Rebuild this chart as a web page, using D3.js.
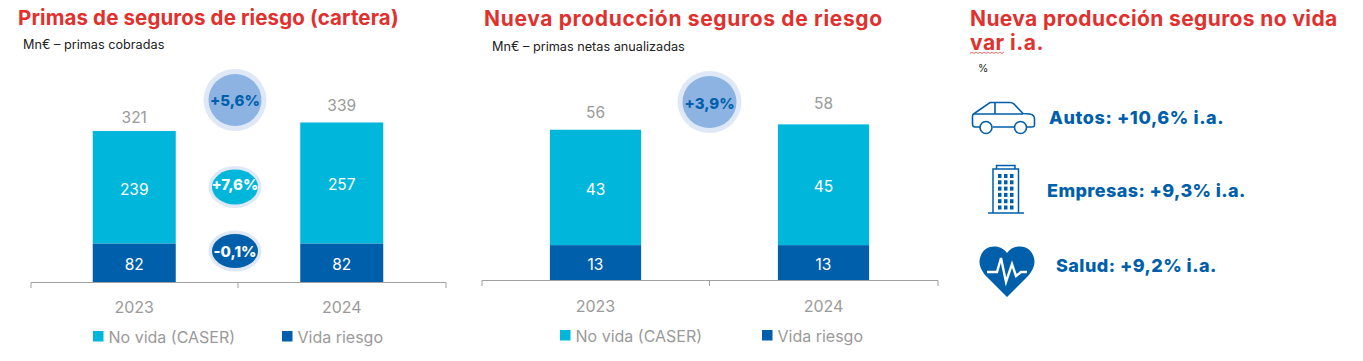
<!DOCTYPE html>
<html>
<head>
<meta charset="utf-8">
<script src="https://cdn.jsdelivr.net/npm/d3@7"></script>
<style>
  html, body { margin: 0; padding: 0; background: #fff; }
  svg { display: block; }
  text { font-family: Inter, "Open Sans", sans-serif; }
</style>
</head>
<body>
<div id="container"></div>
<script>
const categories = ["2023", "2024"];
const seriesNames = ["Vida riesgo", "No vida (CASER)"];

const carteraVida = [82, 82];
const carteraNoVida = [239, 257];
const carteraTotal = [321, 339];

const nuevaVida = [13, 13];
const nuevaNoVida = [43, 45];
const nuevaTotal = [56, 58];

const carteraGrowth = ["+5,6%", "+7,6%", "-0,1%"];
const nuevaGrowth = ["+3,9%"];

const autosLabel = "Autos: +10,6% i.a.";
const empresasLabel = "Empresas: +9,3% i.a.";
const saludLabel = "Salud: +9,2% i.a.";

const cyan = "#00b7db";
const navy = "#005fab";
const red = "#e0312e";
const grey = "#9a9a9a";

const svg = d3
  .select("#container")
  .append("svg")
  .attr("width", 1363)
  .attr("height", 361);

// titles and subtitles
function addText(x, y, str, size, weight, fill, spacing) {
  return svg
    .append("text")
    .attr("x", x)
    .attr("y", y)
    .attr("font-size", size)
    .attr("font-weight", weight)
    .attr("fill", fill)
    .attr("letter-spacing", spacing || 0)
    .text(str);
}

addText(18, 25, "Primas de seguros de riesgo (cartera)", 20.5, 700, red, 0.12);
addText(484, 26, "Nueva producción seguros de riesgo", 21, 700, red, 0.66);
addText(970, 26, "Nueva producción seguros no vida", 21, 700, red, 0.38);
addText(970, 50, "var i.a.", 21, 700, red, 0.5);
addText(23, 49, "Mn€ – primas cobradas", 12.7, 400, "#222");
addText(492, 51, "Mn€ – primas netas anualizadas", 12.7, 400, "#222");
addText(978, 72, "%", 10.5, 400, "#222");

// spell check squiggle under "var"
svg
  .append("path")
  .attr("fill", "none")
  .attr("stroke", red)
  .attr("stroke-width", 0.7)
  .attr("d", d3.range(0, 18).map((i) => `${i ? "L" : "M"}${970 + i * 2},${i % 2 ? 52 : 53.5}`).join(""));

// stacked bars, one panel per call
function drawPanel(opt) {
  const xScale = d3
    .scaleBand()
    .domain(categories)
    .range(opt.xRange)
    .paddingInner(0.6)
    .paddingOuter(0.3);
  const yScale = d3
    .scaleLinear()
    .domain([0, opt.yMax])
    .range([opt.base, opt.yTop]);

  const rows = categories.map((c, i) => ({
    year: c,
    vida: opt.vida[i],
    noVida: opt.noVida[i],
    total: opt.total[i],
    dy: opt.totalGap[i],
  }));
  const stacked = d3.stack().keys(["vida", "noVida"])(rows);
  const colors = [navy, cyan];

  const g = svg.append("g");
  const layers = g
    .selectAll(".layer")
    .data(stacked)
    .enter()
    .append("g")
    .attr("class", "layer")
    .attr("fill", (d, i) => colors[i]);

  layers
    .selectAll("rect")
    .data((d) => d)
    .enter()
    .append("rect")
    .attr("x", (d) => xScale(d.data.year))
    .attr("width", xScale.bandwidth())
    .attr("y", (d) => yScale(d[1]))
    .attr("height", (d) => yScale(d[0]) - yScale(d[1]));

  layers
    .selectAll("text")
    .data((d) => d)
    .enter()
    .append("text")
    .attr("x", (d) => xScale(d.data.year) + xScale.bandwidth() / 2)
    .attr("y", (d) => (yScale(d[0]) + yScale(d[1])) / 2 + 2)
    .attr("dy", "0.35em")
    .attr("text-anchor", "middle")
    .attr("font-size", 15.5)
    .attr("fill", "#fff")
    .text((d) => d[1] - d[0]);

  // totals on top
  g.selectAll(".total")
    .data(rows)
    .enter()
    .append("text")
    .attr("class", "total")
    .attr("x", (d) => xScale(d.year) + xScale.bandwidth() / 2)
    .attr("y", (d) => yScale(d.total) - d.dy)
    .attr("text-anchor", "middle")
    .attr("font-size", 15.5)
    .attr("fill", grey)
    .text((d) => d.total);

  // x axis, ticks sit between the categories
  const axis = g
    .append("g")
    .attr("transform", `translate(0, ${opt.base})`)
    .call(d3.axisBottom(xScale).tickSize(0).tickSizeOuter(6).tickPadding(opt.labelPad));
  axis.select(".domain").attr("stroke", "#a0a0a0");
  axis
    .selectAll("text")
    .attr("font-size", 16)
    .attr("fill", grey)
    .attr("font-family", "Inter");
  axis
    .append("line")
    .attr("x1", xScale.step() + opt.xRange[0])
    .attr("x2", xScale.step() + opt.xRange[0])
    .attr("y1", 0)
    .attr("y2", 6)
    .attr("stroke", "#a0a0a0");

  // legend
  const legend = [
    { name: seriesNames[1], color: cyan, x: opt.legendX[0] },
    { name: seriesNames[0], color: navy, x: opt.legendX[1] },
  ];
  const items = g
    .selectAll(".legend")
    .data(legend)
    .enter()
    .append("g")
    .attr("class", "legend")
    .attr("transform", (d) => `translate(${d.x}, ${opt.legendY})`);
  items
    .append("rect")
    .attr("width", 10.5)
    .attr("height", 10.5)
    .attr("fill", (d) => d.color);
  items
    .append("text")
    .attr("x", 15.5)
    .attr("y", 11.5)
    .attr("font-size", 16)
    .attr("fill", grey)
    .text((d) => d.name);
}

drawPanel({
  xRange: [30.5, 445.5],
  base: 282,
  yTop: 122,
  yMax: 340,
  vida: carteraVida,
  noVida: carteraNoVida,
  total: carteraTotal,
  totalGap: [8, 11],
  labelPad: 20,
  legendX: [93, 282],
  legendY: 331,
});

drawPanel({
  xRange: [481.5, 937.5],
  base: 280,
  yTop: 119,
  yMax: 60,
  vida: nuevaVida,
  noVida: nuevaNoVida,
  total: nuevaTotal,
  totalGap: [12, 15],
  labelPad: 21,
  legendX: [560, 762],
  legendY: 330,
});

// growth bubbles
const bubbles = [
  { label: carteraGrowth[0], cx: 235, cy: 100, rx: 26.5, ry: 26, ring: 5, fill: "#8db3e2", color: navy, textDy: 1 },
  { label: carteraGrowth[1], cx: 235, cy: 187, rx: 23, ry: 17.5, ring: 3.5, fill: cyan, color: "#fff", textDy: -2 },
  { label: carteraGrowth[2], cx: 235, cy: 251, rx: 23, ry: 17, ring: 3.5, fill: navy, color: "#fff", textDy: 0.5 },
  { label: nuevaGrowth[0], cx: 709.5, cy: 102, rx: 27, ry: 26, ring: 5, fill: "#8db3e2", color: navy, textDy: 2 },
];
const bubble = svg.selectAll(".bubble").data(bubbles).enter().append("g").attr("class", "bubble");
bubble
  .append("ellipse")
  .attr("cx", (d) => d.cx)
  .attr("cy", (d) => d.cy)
  .attr("rx", (d) => d.rx + d.ring)
  .attr("ry", (d) => d.ry + d.ring)
  .attr("fill", "#dfe8f6");
bubble
  .append("ellipse")
  .attr("cx", (d) => d.cx)
  .attr("cy", (d) => d.cy)
  .attr("rx", (d) => d.rx)
  .attr("ry", (d) => d.ry)
  .attr("fill", (d) => d.fill);
bubble
  .append("text")
  .attr("x", (d) => d.cx)
  .attr("y", (d) => d.cy + d.textDy)
  .attr("dy", "0.35em")
  .attr("text-anchor", "middle")
  .attr("font-size", 15)
  .attr("font-weight", 800)
  .attr("fill", (d) => d.color)
  .text((d) => d.label);

// right column
addText(1049, 124, autosLabel, 18, 800, navy, 0.6);
addText(1047, 197, empresasLabel, 18, 800, navy, 0.4);
addText(1056, 272, saludLabel, 18, 800, navy, 0.45);

// car icon
const car = svg.append("g").attr("fill", "none").attr("stroke", navy).attr("stroke-width", 1.6);
car
  .append("path")
  .attr("d", "M980,127 L975,127 Q972.5,127 972.5,124 L972.5,116 Q972.5,114 975,113 L990,102.5 L1010,102.5 Q1012,102.5 1014,104 L1023,113.5 L1030,114 Q1034.5,115 1034.5,119 L1034.5,125 Q1034.5,127 1032,127 L1027,127 M993,127 L1014,127");
car.append("path").attr("d", "M973,114 L1023,114 M995,102.5 L995,114");
car.append("circle").attr("cx", 986).attr("cy", 127.5).attr("r", 6);
car.append("circle").attr("cx", 1020.5).attr("cy", 127.5).attr("r", 6);

// building icon
const building = svg.append("g").attr("stroke", navy).attr("fill", "none").attr("stroke-width", 1.5);
building.append("path").attr("d", "M988,213 L1024,213 M993,213 L993,169 L1018.5,169 L1018.5,213 M996.5,169 L996.5,165.5 L1015,165.5 L1015,169");
building
  .selectAll("rect")
  .data(d3.cross(d3.range(3), d3.range(6)))
  .enter()
  .append("rect")
  .attr("x", (d) => 998 + d[0] * 6)
  .attr("y", (d) => 174 + d[1] * 6.3)
  .attr("width", 3.5)
  .attr("height", 4)
  .attr("fill", navy)
  .attr("stroke", "none");

// heart icon
svg
  .append("path")
  .attr("fill", navy)
  .attr("d", "M1007,297 L986,276 C979,268 979,262 980,258 C982,250 988,246.5 994,246.5 C1000,246.5 1004,249 1007,253 C1010,249 1014,246.5 1020,246.5 C1026,246.5 1032,250 1034,258 C1035,262 1035,268 1028,276 Z");
svg
  .append("path")
  .attr("fill", "none")
  .attr("stroke", "#fff")
  .attr("stroke-width", 2.4)
  .attr("d", "M987,272 L997,272 L1001,258 L1006,282 L1012,264 L1016,276 L1021,272 L1027,272");
</script>
</body>
</html>
